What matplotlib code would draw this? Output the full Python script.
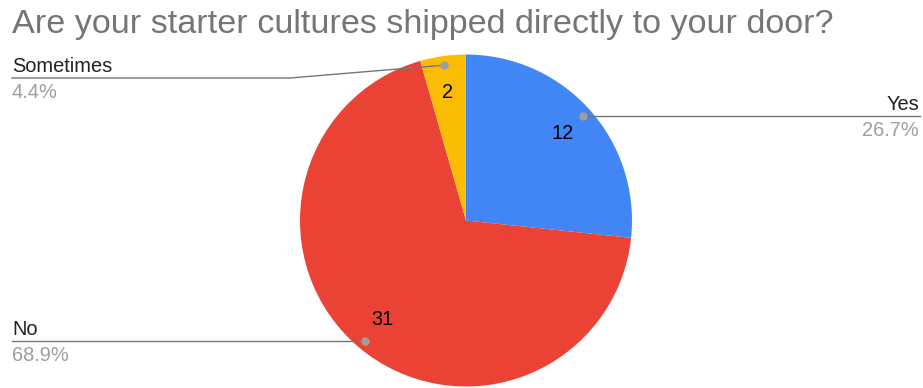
import matplotlib.pyplot as plt
import numpy as np

plt.rcParams["font.family"] = ["Liberation Sans", "DejaVu Sans"]

TITLE = "Are your starter cultures shipped directly to your door?"
labels = ["Yes", "No", "Sometimes"]
counts = [12, 31, 2]
colors = ["#4285F4", "#EA4335", "#FBBC04"]

W, H = 923, 388
fig = plt.figure(figsize=(W / 100, H / 100), dpi=100)
ax = fig.add_axes([0, 0, 1, 1])

# work in pixel units, y measured upward
cx, cy, R = 466, H - 220.5, 166
total = sum(counts)
fs = 14.4

wedges, _, autotexts = ax.pie(
    counts, colors=colors, startangle=90, counterclock=False,
    center=(cx, cy), radius=R,
    autopct=lambda p: f"{p * total / 100:.0f}", pctdistance=0.78,
    textprops=dict(fontsize=fs, color="black"),
)
ax.set_xlim(0, W)
ax.set_ylim(0, H)
ax.axis("off")

line_col = "#757575"
pct_col = "#9E9E9E"

for w, name, n in zip(wedges, labels, counts):
    mid = np.deg2rad((w.theta1 + w.theta2) / 2)
    dx, dy = cx + 0.945 * R * np.cos(mid), cy + 0.945 * R * np.sin(mid)
    pct = f"{100 * n / total:.1f}%"
    if name == "Yes":
        ly = dy
        ax.plot([dx, 920], [ly, ly], color=line_col, lw=1, zorder=3)
        ax.text(919, ly + 6, name, ha="right", va="baseline", fontsize=fs, color="#222222")
        ax.text(919, ly - 5, pct, ha="right", va="top", fontsize=fs, color=pct_col)
    elif name == "No":
        ly = dy
        ax.plot([dx, 12], [ly, ly], color=line_col, lw=1, zorder=3)
        ax.text(12, ly + 6, name, ha="left", va="baseline", fontsize=fs, color="#222222")
        ax.text(12, ly - 5, pct, ha="left", va="top", fontsize=fs, color=pct_col)
    else:
        ly = H - 78
        ax.plot([dx, 290, 12], [dy, ly, ly], color=line_col, lw=1, zorder=3)
        ax.text(12, ly + 6, name, ha="left", va="baseline", fontsize=fs, color="#222222")
        ax.text(12, ly - 5, pct, ha="left", va="top", fontsize=fs, color=pct_col)
    ax.plot(dx, dy, "o", ms=6, color=pct_col, mec="none", zorder=4)

ax.text(12, H - 33, TITLE, ha="left", va="baseline", fontsize=24.6, color="#757575")

fig.savefig("out.png", dpi=100)
